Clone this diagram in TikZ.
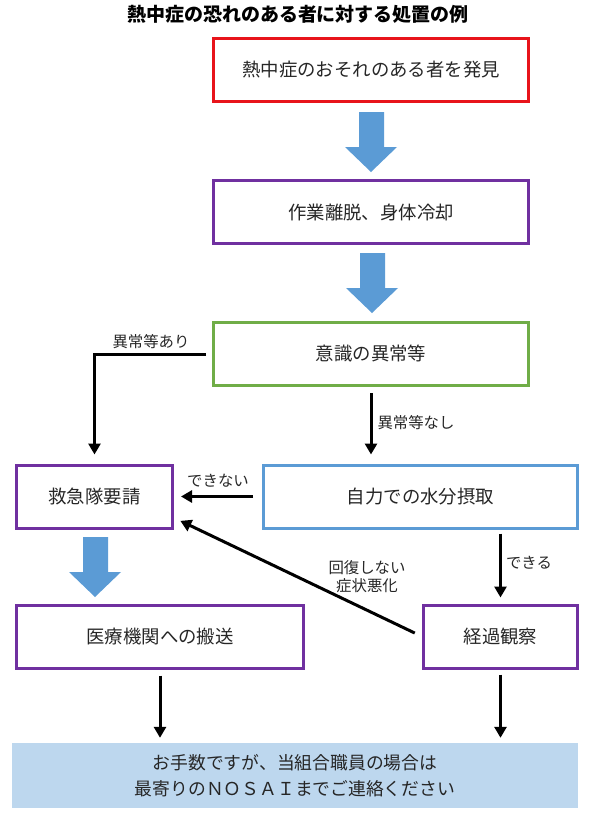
\documentclass[tikz,border=0pt]{standalone}
\usepackage{fontspec}
\newfontfamily\cjk{Noto Sans CJK JP}
\usetikzlibrary{arrows.meta}

\definecolor{boxred}{HTML}{E8141B}
\definecolor{boxpurple}{HTML}{7030A0}
\definecolor{boxgreen}{HTML}{70AD47}
\definecolor{boxblue}{HTML}{5B9BD5}
\definecolor{arrowblue}{HTML}{5B9BD5}
\definecolor{noteblue}{HTML}{BDD7EE}
\definecolor{textgray}{HTML}{262626}

\tikzset{
  box/.style={draw=#1,line width=3pt,minimum height=63pt,text=textgray,
    font=\cjk\fontsize{18.4}{22}\selectfont},
  lab/.style={text=textgray,font=\cjk\fontsize{15.4}{18}\selectfont},
  flow/.style={->,line width=3pt},
  fat/.style={fill=arrowblue}
}

\begin{document}
\begin{tikzpicture}[x=1pt,y=-1pt,>={Triangle[length=11pt,width=12pt]}]
  \useasboundingbox (0,0) rectangle (594,820);
  % title
  \node[text=black,font=\cjk\bfseries\fontsize{19}{22}\selectfont] (title) at (298,14) {熱中症の恐れのある者に対する処置の例};

  % boxes
  \node[box=boxred,minimum width=315pt] (find) at (371,70) {熱中症のおそれのある者を発見};
  \node[box=boxpurple,minimum width=315pt] (cool) at (371,212) {作業離脱、身体冷却};
  \node[box=boxgreen,minimum width=315pt] (aware) at (371,354) {意識の異常等};
  \node[box=boxpurple,minimum width=156pt] (call) at (94.5,496.5) {救急隊要請};
  \node[box=boxblue,minimum width=314pt] (drink) at (420.5,496.5) {自力での水分摂取};
  \node[box=boxpurple,minimum width=287pt] (carry) at (160,636.5) {医療機関への搬送};
  \node[box=boxpurple,minimum width=154pt] (watch) at (500.5,636.5) {経過観察};
  \node[fill=noteblue,minimum width=566pt,minimum height=65pt,align=center,text=textgray,
    font=\cjk\fontsize{17.8}{26}\selectfont] (contact) at (295,775.5)
    {お手数ですが、当組合職員の場合は\\最寄りのＮＯＳＡＩまでご連絡ください};

  % fat blue arrows
  \foreach \x/\y in {371/112,372/253,95/537}
  {
    \fill[fat] (\x-12,\y) -- ++(25,0) -- ++(0,35) -- ++(13,0) -- (\x,\y+60)
      -- (\x-26,\y+35) -- ++(14,0) -- cycle;
  }

  % connectors
  \draw[flow,shorten <=6pt,shorten >=9pt] (aware.west) -| (call.north);
  \node[lab] (yes) at (151,342) {異常等あり};
  \draw[flow,shorten <=6pt,shorten >=9pt] (aware.south) -- (aware.south |- drink.north);
  \node[lab] (no) at (416,423) {異常等なし};
  \draw[flow,shorten <=9pt,shorten >=7pt] (drink.west) -- (call.east);
  \node[lab] (cannot) at (218,481) {できない};
  \draw[flow,shorten <=4pt,shorten >=6pt] (watch.north |- drink.south) -- (watch.north);
  \node[lab] (can) at (529,563) {できる};
  \draw[flow,shorten <=8pt,shorten >=7pt] (watch.west) -- (call.-15);
  \node[lab,align=center] (worse) at (367,577) {回復しない\\症状悪化};
  \draw[flow,shorten <=6pt,shorten >=5pt] (carry.south) -- (carry.south |- contact.north);
  \draw[flow,shorten <=5pt,shorten >=5pt] (watch.south) -- (watch.south |- contact.north);
\end{tikzpicture}
\end{document}
